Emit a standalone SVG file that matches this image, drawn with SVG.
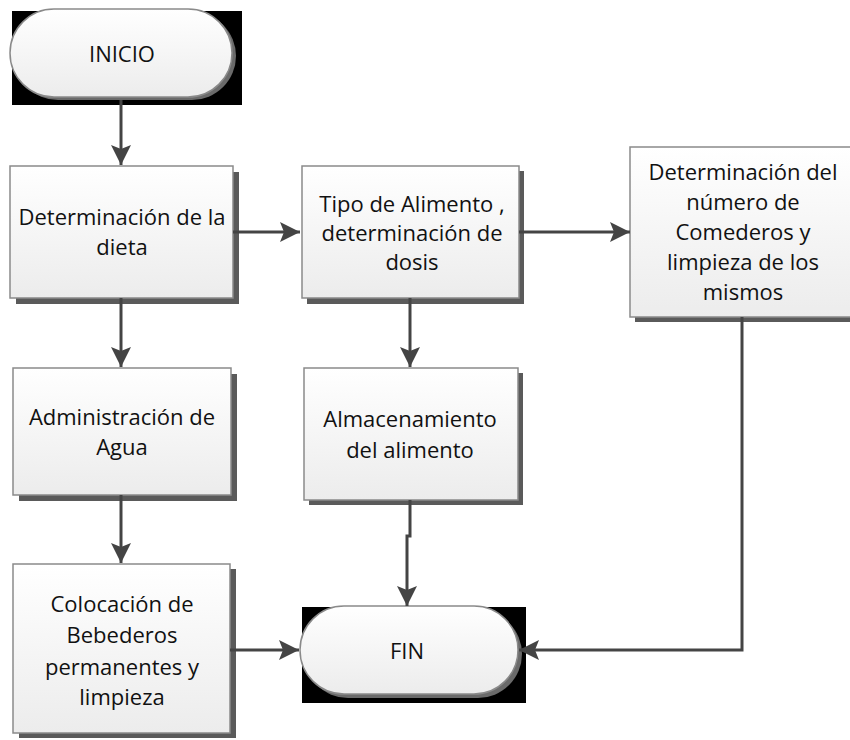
<svg xmlns="http://www.w3.org/2000/svg" width="850" height="740" viewBox="0 0 850 740">
<defs>
<linearGradient id="g" x1="0" y1="0" x2="0" y2="1">
<stop offset="0" stop-color="#ffffff"/>
<stop offset="1" stop-color="#ececec"/>
</linearGradient>
<marker id="ah" viewBox="0 0 20 20" markerWidth="20" markerHeight="20" refX="20" refY="10" orient="auto" markerUnits="userSpaceOnUse">
<path d="M0,0 L20,10 L0,20 L4,10 Z" fill="#444"/>
</marker>
<style>
.box{fill:url(#g);stroke:#8a8a8a;stroke-width:1.5}
.sh{fill:#5a5a5a}
.t{font-family:"Open Sans","Noto Sans","Liberation Sans",sans-serif;font-size:22px;fill:#111;text-anchor:middle}
.c{fill:none;stroke:#444;stroke-width:3;marker-end:url(#ah)}
</style>
</defs>
<rect width="850" height="740" fill="#fff"/>
<g id="inicio">
<rect x="12" y="11" width="230" height="94" fill="#000"/>
<rect x="14" y="12" width="222" height="88" rx="44" fill="#6a6a6a"/>
<rect x="10" y="9" width="222" height="88" rx="44" class="box"/>
<text x="122" y="62" class="t">INICIO</text>
</g>
<g id="dieta">
<rect x="16" y="172" width="223" height="132" class="sh"/>
<rect x="10" y="166" width="223" height="132" class="box"/>
<text x="122" y="225" class="t">Determinación de la</text>
<text x="122" y="255" class="t">dieta</text>
</g>
<g id="tipo">
<rect x="307" y="171" width="217" height="133" class="sh"/>
<rect x="302" y="166" width="217" height="132" class="box"/>
<text x="412" y="212" class="t">Tipo de Alimento ,</text>
<text x="412" y="241" class="t">determinación de</text>
<text x="412" y="270" class="t">dosis</text>
</g>
<g id="comederos">
<rect x="635" y="152" width="230" height="170" class="sh"/>
<rect x="630" y="147" width="230" height="170" class="box"/>
<text x="743" y="180" class="t">Determinación del</text>
<text x="743" y="210" class="t">número de</text>
<text x="743" y="240" class="t">Comederos y</text>
<text x="743" y="270" class="t">limpieza de los</text>
<text x="743" y="300" class="t">mismos</text>
</g>
<g id="agua">
<rect x="19" y="374" width="218" height="127" class="sh"/>
<rect x="13" y="368" width="218" height="127" class="box"/>
<text x="122" y="425" class="t">Administración de</text>
<text x="122" y="455" class="t">Agua</text>
</g>
<g id="almacenamiento">
<rect x="309" y="373" width="214" height="132" class="sh"/>
<rect x="304" y="368" width="214" height="132" class="box"/>
<text x="410" y="427" class="t">Almacenamiento</text>
<text x="410" y="458" class="t">del alimento</text>
</g>
<g id="bebederos">
<rect x="19" y="569" width="217" height="169" class="sh"/>
<rect x="13" y="564" width="217" height="169" class="box"/>
<text x="122" y="612" class="t">Colocación de</text>
<text x="122" y="643" class="t">Bebederos</text>
<text x="122" y="675" class="t">permanentes y</text>
<text x="122" y="705" class="t">limpieza</text>
</g>
<g id="fin">
<rect x="302" y="607" width="224" height="96" fill="#000"/>
<rect x="304" y="610" width="218" height="88" rx="44" fill="#6a6a6a"/>
<rect x="300" y="606" width="218" height="88" rx="44" class="box"/>
<text x="407" y="659" class="t">FIN</text>
</g>
<g id="connectors">
<path class="c" d="M121,100 V165"/>
<path class="c" d="M233,232 H300"/>
<path class="c" d="M519,232 H630"/>
<path class="c" d="M121,298 V367"/>
<path class="c" d="M410,298 V367"/>
<path class="c" d="M121,495 V563"/>
<path class="c" d="M410,500 V536 H407 V606"/>
<path class="c" d="M230,650 H299"/>
<path class="c" d="M742,317 V650 H519"/>
</g>
</svg>
